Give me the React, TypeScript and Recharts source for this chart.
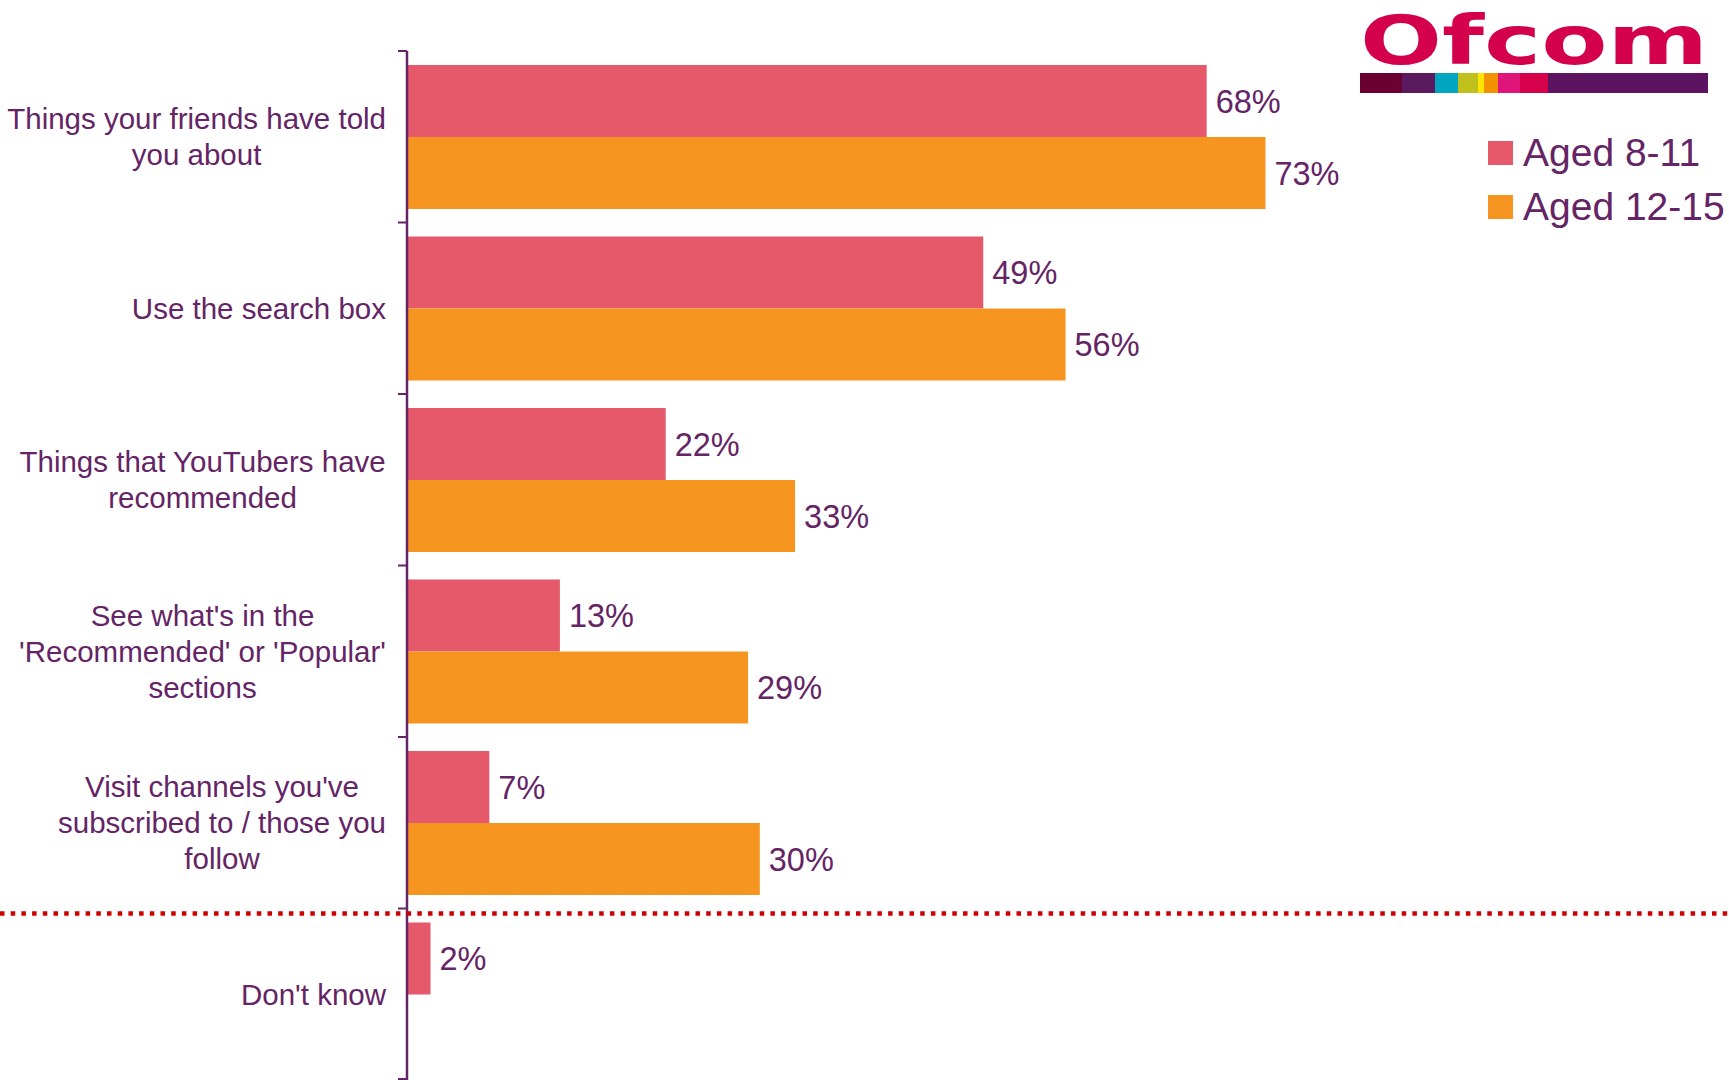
import { BarChart, Bar, XAxis, YAxis, LabelList } from "recharts";

const categories = [
  "Things your friends have told you about",
  "Use the search box",
  "Things that YouTubers have recommended",
  "See what's in the 'Recommended' or 'Popular' sections",
  "Visit channels you've subscribed to / those you follow",
  "Don't know",
];
const aged811 = [68, 49, 22, 13, 7, 2];
const aged1215: (number | null)[] = [73, 56, 33, 29, 30, null];
const seriesNames = ["Aged 8-11", "Aged 12-15"];

const logoStripes = [
  { w: 42, c: "#6b0033" },
  { w: 33, c: "#5c1a5e" },
  { w: 23, c: "#00a5c0" },
  { w: 20, c: "#bfc01c" },
  { w: 6, c: "#ffe600" },
  { w: 14, c: "#f39200" },
  { w: 22, c: "#e0157a" },
  { w: 28, c: "#d7004b" },
  { w: 160, c: "#5c1461" },
];

const W = 1729;
const H = 1080;
const TOP = 51;
const AXIS_X = 407;
const PLOT_W = 1176;
const BAND = (H - TOP) / categories.length;
const PURPLE = "#642465";
const FONT = "'Liberation Sans', Arial, sans-serif";
const PINK = "#e5596a";
const ORANGE = "#f5951f";

const chartData = categories.map((name, i) => ({
  name,
  a: aged811[i],
  b: aged1215[i],
}));

let ctx: CanvasRenderingContext2D | null = null;
const measure = (s: string) => {
  if (!ctx) {
    ctx = document.createElement("canvas").getContext("2d");
    if (ctx) ctx.font = `29.5px ${FONT}`;
  }
  return ctx ? ctx.measureText(s).width : s.length * 15;
};

// wrap category names the way the original's text boxes do
const wrap = (s: string, max = 390) => {
  const words = s.split(" ");
  const lines: string[] = [];
  let cur = "";
  words.forEach((w) => {
    const next = cur ? cur + " " + w : w;
    if (cur && measure(next) > max) {
      lines.push(cur);
      cur = w;
    } else cur = next;
  });
  if (cur) lines.push(cur);
  return lines;
};

const CategoryTick = (props: any) => {
  const { x, y, payload, index } = props;
  const ax = x + 21;
  const lines = wrap(payload.value);
  const widest = Math.max(...lines.map(measure));
  const cx = x - widest / 2;
  const lh = 36;
  const y0 = y - ((lines.length - 1) * lh) / 2;
  return (
    <g>
      <line x1={ax - 9} x2={ax} y1={y - BAND / 2} y2={y - BAND / 2} stroke={PURPLE} strokeWidth={2} />
      {index === categories.length - 1 && (
        <line x1={ax - 9} x2={ax} y1={y + BAND / 2 - 1} y2={y + BAND / 2 - 1} stroke={PURPLE} strokeWidth={2} />
      )}
      <text textAnchor="middle" fill={PURPLE} fontSize={29.5} fontFamily={FONT}>
        {lines.map((l, i) => (
          <tspan key={i} x={cx} y={y0 + i * lh} dy="0.36em">
            {l}
          </tspan>
        ))}
      </text>
    </g>
  );
};

const pct = (v: any) => (v == null ? "" : `${v}%`);

export default function App() {
  return (
    <div style={{ position: "relative", width: W, height: H, fontFamily: FONT, background: "#fff" }}>
      <style>{`body{margin:0}`}</style>
      <BarChart
        layout="vertical"
        width={W}
        height={H}
        data={chartData}
        margin={{ top: TOP, right: W - AXIS_X - PLOT_W, bottom: 0, left: 0 }}
        barCategoryGap={14}
        barGap={0}
      >
        <XAxis type="number" domain={[0, 100]} hide />
        <YAxis
          type="category"
          dataKey="name"
          width={AXIS_X}
          tickSize={0}
          tickMargin={21}
          tickLine={false}
          axisLine={{ stroke: PURPLE, strokeWidth: 2.5 }}
          tick={<CategoryTick />}
          interval={0}
        />
        <Bar dataKey="a" name={seriesNames[0]} fill={PINK} isAnimationActive={false}>
          <LabelList dataKey="a" position="right" offset={9} fill={PURPLE} fontSize={32.5} formatter={pct} />
        </Bar>
        <Bar dataKey="b" name={seriesNames[1]} fill={ORANGE} isAnimationActive={false}>
          <LabelList dataKey="b" position="right" offset={9} fill={PURPLE} fontSize={32.5} formatter={pct} />
        </Bar>
      </BarChart>

      <svg width={W} height={H} style={{ position: "absolute", left: 0, top: 0, pointerEvents: "none" }}>
        <line
          x1={0}
          x2={W}
          y1={TOP + BAND * 5 + 5}
          y2={TOP + BAND * 5 + 5}
          stroke="#cc0000"
          strokeWidth={4.5}
          strokeDasharray="4.5 6.2"
        />
        <text
          x={1360}
          y={64}
          fill="#d4004c"
          fontFamily="'DejaVu Sans', sans-serif"
          fontWeight="bold"
          fontSize={68}
          textLength={348}
          lengthAdjust="spacingAndGlyphs"
        >
          Ofcom
        </text>
        {logoStripes.map((s, i) => {
          const x = 1360 + logoStripes.slice(0, i).reduce((t, p) => t + p.w, 0);
          return <rect key={i} x={x} y={73} width={s.w} height={20} fill={s.c} />;
        })}
      </svg>

      <div style={{ position: "absolute", left: 1488, top: 126 }}>
        {seriesNames.map((n, i) => (
          <div key={n} style={{ display: "flex", alignItems: "center", height: 54 }}>
            <div style={{ width: 25, height: 24, background: i === 0 ? PINK : ORANGE, marginRight: 10 }} />
            <span style={{ fontSize: 39, color: PURPLE, whiteSpace: "nowrap" }}>{n}</span>
          </div>
        ))}
      </div>
    </div>
  );
}
